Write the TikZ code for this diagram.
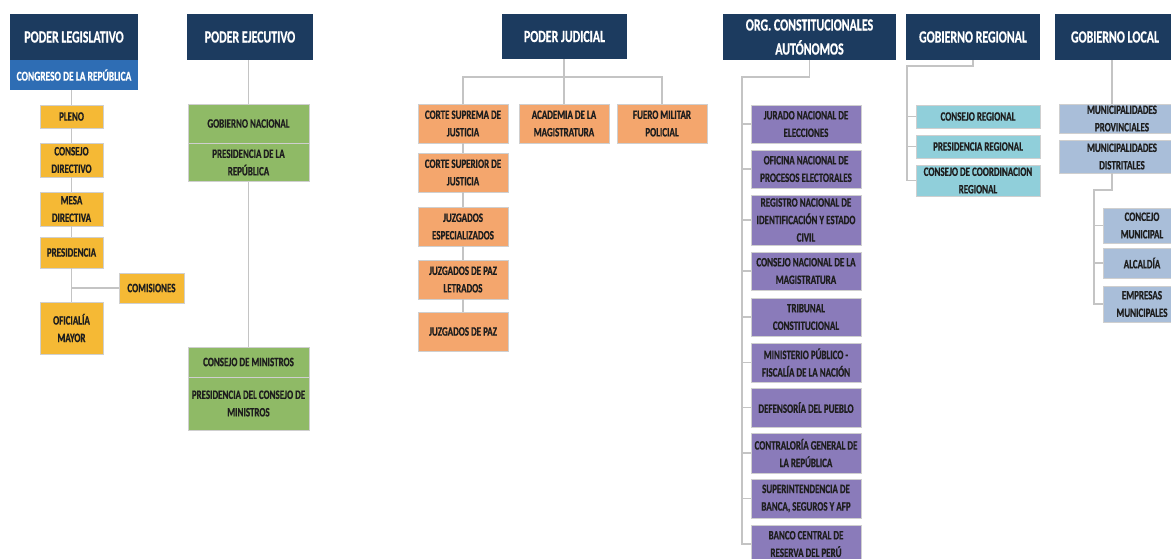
\documentclass[tikz,border=0pt]{standalone}
\usepackage{fontspec}
\setmainfont{Carlito}[FakeStretch=0.7,BoldFeatures={FakeBold=0.6}]
\definecolor{navy}{HTML}{1C3B5F}
\definecolor{congress}{HTML}{2E6DB4}
\definecolor{gold}{HTML}{F5B935}
\definecolor{leaf}{HTML}{8FBA66}
\definecolor{salmon}{HTML}{F4A66D}
\definecolor{lilac}{HTML}{8A7BBA}
\definecolor{aqua}{HTML}{90CFDA}
\definecolor{steel}{HTML}{A9BED9}
\definecolor{wire}{HTML}{C4C4C4}
\definecolor{boxedge}{HTML}{CFCFCF}
\definecolor{boxtext}{HTML}{1E1E1E}
\begin{document}
\begin{tikzpicture}[x=1pt,y=-1pt,
  every node/.style={inner sep=0pt,outer sep=0pt},
  box/.style={draw=boxedge,line width=0.7pt,align=center,text=boxtext,
    font=\fontsize{12.8}{17.5}\selectfont\bfseries},
  head/.style={box,draw=none,fill=navy,text=white,
    font=\fontsize{17}{24}\selectfont\bfseries},
  wh/.style 2 args={minimum width=#1pt,minimum height=#2pt},
  link/.style={draw=wire,line width=1.3pt}]
\useasboundingbox[fill=white] (0,0) rectangle (1171,558);

% ---------- Poder Legislativo ----------
\node[head,wh={128}{46}] (legH) at (74,37) {PODER LEGISLATIVO};
\node[head,fill=congress,wh={128}{30},font=\fontsize{13.5}{15}\selectfont\bfseries] (legC) at (74,75) {CONGRESO DE LA REPÚBLICA};
\node[box,fill=gold,wh={63}{23}] (pleno) at (71.5,116.5) {PLENO};
\node[box,fill=gold,wh={63}{34}] (cdir) at (71.5,160) {CONSEJO\\DIRECTIVO};
\node[box,fill=gold,wh={63}{34}] (mesa) at (71.5,209) {MESA\\DIRECTIVA};
\node[box,fill=gold,wh={63}{31}] (pres) at (71.5,252.5) {PRESIDENCIA};
\node[box,fill=gold,wh={65}{30}] (comis) at (151.5,288) {COMISIONES};
\node[box,fill=gold,wh={63}{52}] (ofic) at (71.5,328) {OFICIALÍA\\MAYOR};
\draw[link] (legC.south -| pleno.north) -- (pleno.north);
\draw[link] (pleno) -- (cdir);
\draw[link] (cdir) -- (mesa);
\draw[link] (mesa) -- (pres);
\draw[link] (pres) -- (ofic);
\draw[link] (comis.west) -- (comis.west -| pres.south);

% ---------- Poder Ejecutivo ----------
\node[head,wh={126}{46}] (ejeH) at (250,37) {PODER EJECUTIVO};
\node[box,fill=leaf,wh={121}{39}] (gnac) at (248.5,123.5) {GOBIERNO NACIONAL};
\node[box,fill=leaf,wh={121}{38}] (prep) at (248.5,162.5) {PRESIDENCIA DE LA\\REPÚBLICA};
\node[box,fill=leaf,wh={121}{30}] (cmin) at (248.5,362) {CONSEJO DE MINISTROS};
\node[box,fill=leaf,wh={121}{53}] (pcm) at (248.5,403.5) {PRESIDENCIA DEL CONSEJO DE\\MINISTROS};
\draw[link] (ejeH.south -| gnac.north) -- (gnac.north);
\draw[link] (prep.south) -- (cmin.north);

% ---------- Poder Judicial ----------
\node[head,wh={125}{45}] (judH) at (564.5,36.5) {PODER JUDICIAL};
\node[box,fill=salmon,wh={90}{39}] (csup) at (463,123.5) {CORTE SUPREMA DE\\JUSTICIA};
\node[box,fill=salmon,wh={90}{39}] (acad) at (564,123.5) {ACADEMIA DE LA\\MAGISTRATURA};
\node[box,fill=salmon,wh={90}{39}] (fuero) at (662,123.5) {FUERO MILITAR\\POLICIAL};
\node[box,fill=salmon,wh={90}{39}] (csupe) at (463,172.5) {CORTE SUPERIOR DE\\JUSTICIA};
\node[box,fill=salmon,wh={90}{39}] (jesp) at (463,226.5) {JUZGADOS\\ESPECIALIZADOS};
\node[box,fill=salmon,wh={90}{39}] (jpl) at (463,279.5) {JUZGADOS DE PAZ\\LETRADOS};
\node[box,fill=salmon,wh={90}{39}] (jpaz) at (463,331.5) {JUZGADOS DE PAZ};
\coordinate (jbus) at (564,77);
\draw[link] (judH.south -| acad.north) -- (acad.north);
\draw[link] (csup.north) |- (jbus) -| (fuero.north);
\draw[link] (csup) -- (csupe);
\draw[link] (csupe) -- (jesp);
\draw[link] (jesp) -- (jpl);
\draw[link] (jpl) -- (jpaz);

% ---------- Organismos Constitucionales Autónomos ----------
\node[head,wh={173}{46}] (orgH) at (809.5,37) {ORG. CONSTITUCIONALES\\AUTÓNOMOS};
\node[box,fill=lilac,wh={110}{38}] (jne) at (806,124) {JURADO NACIONAL DE\\ELECCIONES};
\node[box,fill=lilac,wh={110}{38}] (onpe) at (806,169) {OFICINA NACIONAL DE\\PROCESOS ELECTORALES};
\node[box,fill=lilac,wh={110}{50}] (reniec) at (806,220) {REGISTRO NACIONAL DE\\IDENTIFICACIÓN Y ESTADO\\CIVIL};
\node[box,fill=lilac,wh={110}{38}] (cnm) at (806,271) {CONSEJO NACIONAL DE LA\\MAGISTRATURA};
\node[box,fill=lilac,wh={110}{38}] (tc) at (806,317) {TRIBUNAL\\CONSTITUCIONAL};
\node[box,fill=lilac,wh={110}{39}] (mpub) at (806,362.5) {MINISTERIO PÚBLICO -\\FISCALÍA DE LA NACIÓN};
\node[box,fill=lilac,wh={110}{39}] (defp) at (806,407.5) {DEFENSORÍA DEL PUEBLO};
\node[box,fill=lilac,wh={110}{40}] (cgr) at (806,453) {CONTRALORÍA GENERAL DE\\LA REPÚBLICA};
\node[box,fill=lilac,wh={110}{39}] (sbs) at (806,498.5) {SUPERINTENDENCIA DE\\BANCA, SEGUROS Y AFP};
\node[box,fill=lilac,wh={110}{38}] (bcr) at (806,544) {BANCO CENTRAL DE\\RESERVA DEL PERÚ};
\coordinate (obus) at (742,77);
\draw[link] (orgH.south) |- (obus) |- (bcr.west);
\foreach \n in {jne,onpe,reniec,cnm,tc,mpub,defp,cgr,sbs}
  \draw[link] (\n.west) -- (\n.west -| obus);

% ---------- Gobierno Regional ----------
\node[head,wh={134}{46}] (regH) at (973,37) {GOBIERNO REGIONAL};
\node[box,fill=aqua,wh={124}{23}] (creg) at (978,116.5) {CONSEJO REGIONAL};
\node[box,fill=aqua,wh={124}{23}] (preg) at (978,146.5) {PRESIDENCIA REGIONAL};
\node[box,fill=aqua,wh={124}{31}] (ccr) at (978,180.5) {CONSEJO DE COORDINACION\\REGIONAL};
\coordinate (rbus) at (907,66);
\draw[link] (regH.south) |- (rbus) |- (ccr.west);
\foreach \n in {creg,preg}
  \draw[link] (\n.west) -- (\n.west -| rbus);

% ---------- Gobierno Local ----------
\node[head,wh={120}{46}] (locH) at (1115,37) {GOBIERNO LOCAL};
\node[box,fill=steel,wh={126}{29}] (mprov) at (1122,118.5) {MUNICIPALIDADES\\PROVINCIALES};
\node[box,fill=steel,wh={126}{33}] (mdist) at (1122,156.5) {MUNICIPALIDADES\\DISTRITALES};
\node[box,fill=steel,wh={78}{35}] (cmun) at (1142,225.5) {CONCEJO\\MUNICIPAL};
\node[box,fill=steel,wh={78}{30}] (alc) at (1142,263) {ALCALDÍA};
\node[box,fill=steel,wh={78}{36}] (emp) at (1142,304) {EMPRESAS\\MUNICIPALES};
\coordinate (lx) at (1112,0);
\coordinate (lbus) at (1094,190);
\draw[link] (locH.south -| lx) -- (mprov.north -| lx);
\draw[link] (mdist.south -| lx) |- (lbus) |- (emp.west);
\foreach \n in {cmun,alc}
  \draw[link] (\n.west) -- (\n.west -| lbus);
\end{tikzpicture}
\end{document}
